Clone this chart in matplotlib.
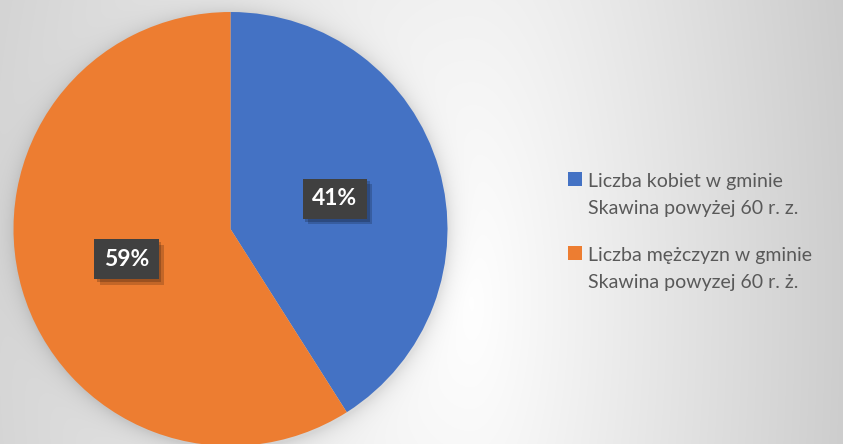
import numpy as np
import matplotlib
matplotlib.use("Agg")
import matplotlib.pyplot as plt
from matplotlib.patches import Rectangle
import matplotlib.patheffects as pe

# ---- data ----
categories = ["Liczba kobiet w gminie\nSkawina powyżej 60 r. z.",
              "Liczba mężczyzn w gminie\nSkawina powyzej 60 r. ż."]
values = [41, 59]
colors = ["#4472C4", "#ED7D31"]

W, H = 843, 444
DPI = 100
plt.rcParams['font.family'] = ['Lato', 'DejaVu Sans']

fig = plt.figure(figsize=(W / DPI, H / DPI), dpi=DPI)

# ---- background gradient (style) ----
yy, xx = np.mgrid[0:H, 0:W].astype(float)
cx, cy = 470.0, 300.0
dx = xx - cx
dy = yy - cy
rx = np.where(dx > 0, 0.00052, 0.00034)
ry = 0.00018
g = 1 - np.sqrt((rx * dx) ** 2 + (ry * dy) ** 2)
# soft shadow around the pie
pcx, pcy, R = 230.5, 229.0, 217.0
d = np.sqrt((xx - pcx - 1) ** 2 + (yy - pcy - 2) ** 2)
g = g - 0.10 * np.exp(-np.clip(d - R, 0, None) / 9.0)
g = np.clip(g, 0, 1)
bg = np.dstack([g, g, g])
axbg = fig.add_axes([0, 0, 1, 1], zorder=0)
axbg.imshow(bg, extent=[0, W, H, 0], aspect='auto', interpolation='bilinear')
axbg.set_xlim(0, W)
axbg.set_ylim(H, 0)
axbg.axis('off')

# ---- pie ----
ax = fig.add_axes([(pcx - R) / W, (H - pcy - R) / H, 2 * R / W, 2 * R / H], zorder=1)
ax.set_facecolor('none')
wedges, texts, autotexts = ax.pie(values, colors=colors, startangle=90, counterclock=False,
                                  radius=1, autopct='%1.0f%%', pctdistance=0.5,
                                  wedgeprops=dict(linewidth=0),
                                  textprops=dict(color='white', fontsize=16.5, fontweight='bold'))
ax.set_xlim(-1, 1)
ax.set_ylim(-1, 1)
ax.set_aspect('equal')
ax.axis('off')
for t in autotexts:
    t.set_ha('center')
    t.set_va('center')
    t.set_bbox(dict(boxstyle='square,pad=0.42', facecolor='#404040',
                    edgecolor='none', linewidth=0))
    bp = t.get_bbox_patch()
    bp.set_path_effects([pe.SimplePatchShadow(offset=(4, -4), shadow_rgbFace='black', alpha=0.18),
                         pe.SimplePatchShadow(offset=(2, -2), shadow_rgbFace='black', alpha=0.2),
                         pe.Normal()])

# ---- legend (manual) ----
def fx(px):
    return px / W

def fy(py):
    return 1 - py / H

entry_tops = [172, 246]
for lab, col, top in zip(categories, colors, entry_tops):
    fig.patches.append(Rectangle((fx(568), fy(top + 14)), 14 / W, 14 / H,
                                 transform=fig.transFigure, facecolor=col,
                                 edgecolor='none', zorder=3))
    for i, line in enumerate(lab.split('\n')):
        fig.text(fx(588), fy(top + 15 + 27 * i), line, fontsize=14, color='#595959',
                 ha='left', va='baseline', zorder=3)

fig.savefig('out.png', dpi=DPI)
